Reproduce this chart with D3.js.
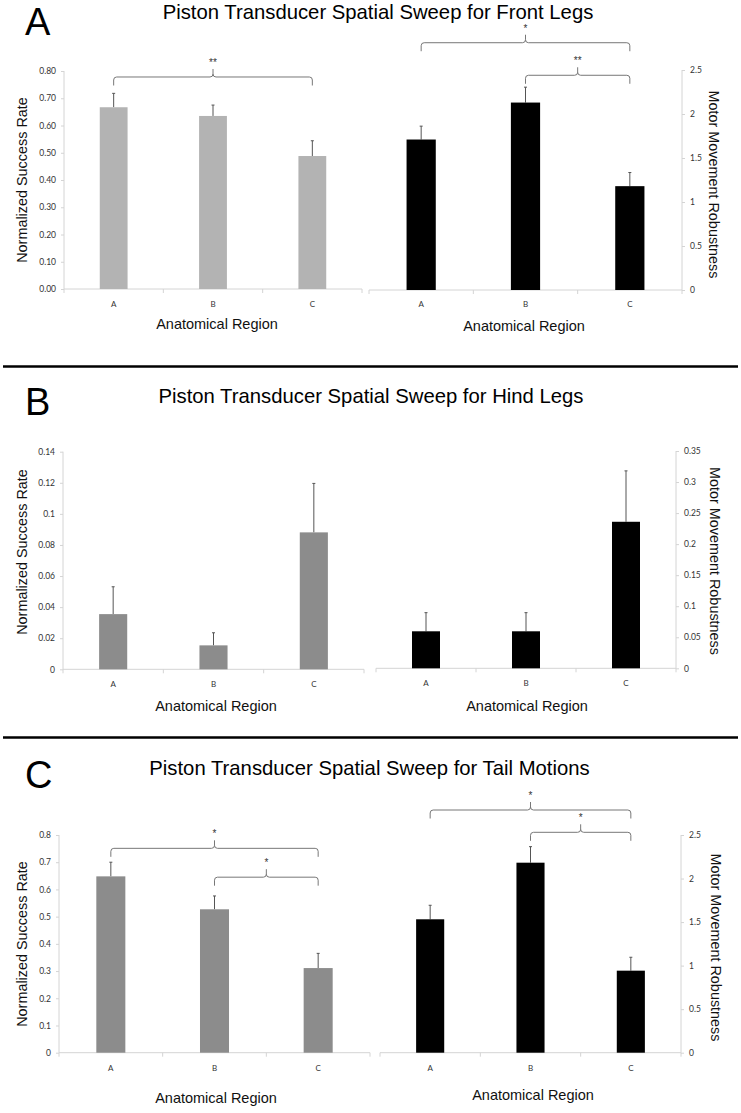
<!DOCTYPE html>
<html><head><meta charset="utf-8">
<script src="https://cdn.jsdelivr.net/npm/d3@7"></script>
<style>body{margin:0;background:#fff}</style>
</head><body><svg id="c" width="741" height="1113"></svg>
<script>
// ---------------- DATA ----------------
const categories = ["A", "B", "C"];
const panelLetters = ["A", "B", "C"];
const panelTitles = [
  "Piston Transducer Spatial Sweep for Front Legs",
  "Piston Transducer Spatial Sweep for Hind Legs",
  "Piston Transducer Spatial Sweep for Tail Motions"
];
const xAxisTitle = "Anatomical Region";
const leftAxisTitle = "Normalized Success Rate";
const rightAxisTitle = "Motor Movement Robustness";

const frontSuccess = [0.667, 0.635, 0.488];
const frontSuccessErr = [0.051, 0.040, 0.056];
const frontRobust = [1.71, 2.13, 1.18];
const frontRobustErr = [0.152, 0.175, 0.155];

const hindSuccess = [0.0355, 0.0154, 0.0881];
const hindSuccessErr = [0.0176, 0.0081, 0.0315];
const hindRobust = [0.0596, 0.0596, 0.236];
const hindRobustErr = [0.030, 0.030, 0.082];

const tailSuccess = [0.648, 0.527, 0.311];
const tailSuccessErr = [0.052, 0.049, 0.054];
const tailRobust = [1.532, 2.182, 0.942];
const tailRobustErr = [0.161, 0.184, 0.154];

const frontSuccessTicks = [0, 0.1, 0.2, 0.3, 0.4, 0.5, 0.6, 0.7, 0.8];
const frontSuccessTickLabels = ["0.00","0.10","0.20","0.30","0.40","0.50","0.60","0.70","0.80"];
const robustTicks = [0, 0.5, 1, 1.5, 2, 2.5];
const robustTickLabels = ["0","0.5","1","1.5","2","2.5"];
const hindSuccessTicks = [0, 0.02, 0.04, 0.06, 0.08, 0.1, 0.12, 0.14];
const hindSuccessTickLabels = ["0","0.02","0.04","0.06","0.08","0.1","0.12","0.14"];
const hindRobustTicks = [0, 0.05, 0.1, 0.15, 0.2, 0.25, 0.3, 0.35];
const hindRobustTickLabels = ["0","0.05","0.1","0.15","0.2","0.25","0.3","0.35"];
const tailSuccessTicks = [0, 0.1, 0.2, 0.3, 0.4, 0.5, 0.6, 0.7, 0.8];
const tailSuccessTickLabels = ["0","0.1","0.2","0.3","0.4","0.5","0.6","0.7","0.8"];

// significance brackets: from/to category, label, height in data units
const frontSuccessBrackets = [{from: "A", to: "C", label: "**", level: 0.778}];
const frontRobustBrackets = [{from: "A", to: "C", label: "*", level: 2.81}, {from: "B", to: "C", label: "**", level: 2.44}];
const hindSuccessBrackets = [];
const hindRobustBrackets = [];
const tailSuccessBrackets = [{from: "A", to: "C", label: "*", level: 0.751}, {from: "B", to: "C", label: "*", level: 0.645}];
const tailRobustBrackets = [{from: "A", to: "C", label: "*", level: 2.787}, {from: "B", to: "C", label: "*", level: 2.531}];

// ---------------- LAYOUT ----------------
const svg = d3.select("#c");
const FONT = "'Liberation Sans', Arial, sans-serif";
const TICKFONT = "Lato, 'Open Sans', sans-serif";

const panels = [
  {
    letterY: 35, titleX: 378, titleY: 19,
    left: {x0: 64, x1: 362, y0: 289, yTop: 71, values: frontSuccess, errs: frontSuccessErr, ticks: frontSuccessTicks, tickLabels: frontSuccessTickLabels, brackets: frontSuccessBrackets, color: "#b3b3b3",
           xt: [217, 329], yt: [27, 180], catY: 307},
    right: {x0: 369, x1: 682, y0: 290, yTop: 70, values: frontRobust, errs: frontRobustErr, ticks: robustTicks, tickLabels: robustTickLabels, brackets: frontRobustBrackets, color: "#000",
           xt: [524, 331], yt: [709, 184.5], catY: 307}
  },
  {
    letterY: 415, titleX: 371, titleY: 403,
    left: {x0: 63, x1: 364, y0: 669.3, yTop: 451.7, values: hindSuccess, errs: hindSuccessErr, ticks: hindSuccessTicks, tickLabels: hindSuccessTickLabels, brackets: hindSuccessBrackets, color: "#8c8c8c",
           xt: [216, 711], yt: [27, 552], catY: 687},
    right: {x0: 376, x1: 676, y0: 668.3, yTop: 451, values: hindRobust, errs: hindRobustErr, ticks: hindRobustTicks, tickLabels: hindRobustTickLabels, brackets: hindRobustBrackets, color: "#000",
           xt: [527, 711], yt: [710, 561], catY: 686}
  },
  {
    letterY: 788, titleX: 369.5, titleY: 775,
    left: {x0: 59, x1: 370, y0: 1052.7, yTop: 835, values: tailSuccess, errs: tailSuccessErr, ticks: tailSuccessTicks, tickLabels: tailSuccessTickLabels, brackets: tailSuccessBrackets, color: "#8c8c8c",
           xt: [216, 1103], yt: [27, 944], catY: 1071},
    right: {x0: 380, x1: 681, y0: 1052.7, yTop: 835, values: tailRobust, errs: tailRobustErr, ticks: robustTicks, tickLabels: robustTickLabels, brackets: tailRobustBrackets, color: "#000",
           xt: [533, 1100], yt: [711, 947.5], catY: 1071}
  }
];

function drawChart(c, side) {
  const g = svg.append("g");
  const x = d3.scaleBand().domain(categories).range([c.x0, c.x1]).paddingInner(0.72).paddingOuter(0.36);
  const y = d3.scaleLinear().domain([0, c.ticks[c.ticks.length - 1]]).range([c.y0, c.yTop]);
  const data = categories.map((k, i) => ({k, v: c.values[i], e: c.errs[i]}));

  // x axis line with boundary ticks
  const step = x.step();
  const bounds = d3.range(categories.length + 1).map(i => c.x0 + i * step);
  g.append("line").attr("x1", c.x0).attr("x2", c.x1).attr("y1", c.y0).attr("y2", c.y0)
    .attr("stroke", "#d4d4d4").attr("stroke-width", 1);
  g.selectAll(".bt").data(bounds).enter().append("line")
    .attr("x1", d => d).attr("x2", d => d).attr("y1", c.y0).attr("y2", c.y0 + 4)
    .attr("stroke", "#d4d4d4");
  g.selectAll(".cl").data(categories).enter().append("text")
    .attr("x", d => x(d) + x.bandwidth() / 2).attr("y", c.catY)
    .attr("text-anchor", "middle").attr("font-family", TICKFONT).attr("font-size", 8).attr("fill", "#333")
    .text(d => d);

  // y axis
  const ax = (side === "left" ? d3.axisLeft(y) : d3.axisRight(y))
    .tickValues(c.ticks).tickFormat((d, i) => c.tickLabels[i]).tickSize(3).tickPadding(5);
  const axg = g.append("g").attr("transform", `translate(${side === "left" ? c.x0 : c.x1},0)`).call(ax);
  axg.select(".domain").attr("stroke", "#d4d4d4").attr("d", side === "left"
      ? `M0,${c.y0}V${c.yTop}` : `M0,${c.y0}V${c.yTop}`);
  axg.selectAll(".tick line").attr("stroke", "#d4d4d4");
  axg.selectAll(".tick text").attr("font-family", TICKFONT).attr("font-size", 8.5).attr("fill", "#333");

  // error bars
  const eg = g.selectAll(".err").data(data).enter().append("g");
  eg.append("line")
    .attr("x1", d => x(d.k) + x.bandwidth() / 2).attr("x2", d => x(d.k) + x.bandwidth() / 2)
    .attr("y1", d => y(d.v)).attr("y2", d => y(d.v + d.e))
    .attr("stroke", "#555").attr("stroke-width", 1);
  eg.append("line")
    .attr("x1", d => x(d.k) + x.bandwidth() / 2 - 1.5).attr("x2", d => x(d.k) + x.bandwidth() / 2 + 1.5)
    .attr("y1", d => y(d.v + d.e)).attr("y2", d => y(d.v + d.e))
    .attr("stroke", "#555").attr("stroke-width", 1);

  // bars
  g.selectAll(".bar").data(data).enter().append("rect")
    .attr("x", d => x(d.k)).attr("width", x.bandwidth())
    .attr("y", d => y(d.v)).attr("height", d => c.y0 - y(d.v))
    .attr("fill", c.color);

  // brackets
  c.brackets.forEach(b => {
    const xa = x(b.from) + x.bandwidth() / 2;
    const xb = x(b.to) + x.bandwidth() / 2;
    const xm = (xa + xb) / 2;
    const yy = y(b.level);
    const h = 8.5, pk = 8, r = 3;
    const p = `M${xa},${yy + h} L${xa},${yy + r} Q${xa},${yy} ${xa + r},${yy} L${xm - r},${yy} Q${xm},${yy} ${xm},${yy - r} L${xm},${yy - pk} M${xm},${yy - r} Q${xm},${yy} ${xm + r},${yy} L${xb - r},${yy} Q${xb},${yy} ${xb},${yy + r} L${xb},${yy + h}`;
    g.append("path").attr("d", p).attr("fill", "none").attr("stroke", "#777").attr("stroke-width", 1);
    g.append("text").attr("x", xm).attr("y", yy - pk - 3).attr("text-anchor", "middle")
      .attr("font-family", FONT).attr("font-size", 10).attr("fill", "#333").text(b.label);
  });

  // axis titles
  g.append("text").attr("x", c.xt[0]).attr("y", c.xt[1]).attr("text-anchor", "middle")
    .attr("font-family", FONT).attr("font-size", 14.5).attr("fill", "#111").text(xAxisTitle);
  g.append("text").attr("transform", `translate(${c.yt[0]},${c.yt[1]}) rotate(${side === "left" ? -90 : 90})`)
    .attr("text-anchor", "middle").attr("font-family", FONT).attr("font-size", 14.4).attr("fill", "#111")
    .text(side === "left" ? leftAxisTitle : rightAxisTitle);
}

panels.forEach((p, i) => {
  svg.append("text").attr("x", 25).attr("y", p.letterY).attr("font-family", FONT).attr("font-size", 38)
    .attr("fill", "#000").text(panelLetters[i]);
  svg.append("text").attr("x", p.titleX).attr("y", p.titleY).attr("text-anchor", "middle")
    .attr("font-family", FONT).attr("font-size", 20.3).attr("fill", "#000").text(panelTitles[i]);
  drawChart(p.left, "left");
  drawChart(p.right, "right");
});

// separators
[366.5, 737.5].forEach(yy => {
  svg.append("line").attr("x1", 3).attr("x2", 738).attr("y1", yy).attr("y2", yy)
    .attr("stroke", "#000").attr("stroke-width", 2.5);
});
</script>
</body></html>
